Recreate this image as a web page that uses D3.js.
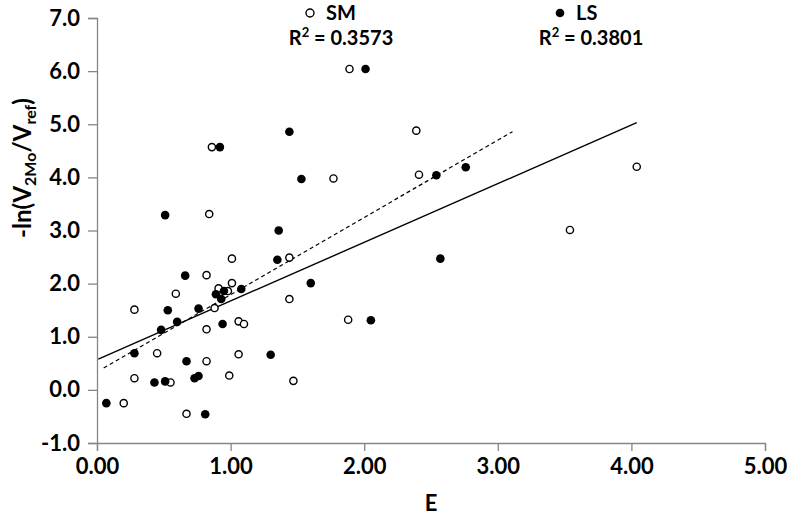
<!DOCTYPE html>
<html>
<head>
<meta charset="utf-8">
<script src="https://cdn.jsdelivr.net/npm/d3@7"></script>
<style>
  body { margin: 0; background: #fff; }
  svg text { font-family: Lato, "Open Sans", sans-serif; font-weight: bold; fill: #000; }
  .axis path, .axis line { stroke: #868686; stroke-width: 1.3; }
</style>
</head>
<body>
<svg id="chart" width="792" height="515"></svg>
<script>
// DATA
// SM series (open circles)
const smE = [0.28, 0.28, 0.20, 0.45, 0.55, 0.59, 0.67, 0.82, 0.82, 0.82, 0.84, 0.86, 0.88, 0.91, 0.98, 0.99,
             1.01, 1.01, 1.06, 1.06, 1.10, 1.44, 1.44, 1.47, 1.77, 1.88, 1.89, 2.39, 2.41, 3.54, 4.04];
const smY = [1.51, 0.22, -0.25, 0.69, 0.14, 1.81, -0.45, 2.16, 1.14, 0.54, 3.31, 4.57, 1.54, 1.91, 1.86, 0.27,
             2.47, 2.01, 1.29, 0.67, 1.24, 2.49, 1.71, 0.17, 3.98, 1.32, 6.04, 4.88, 4.05, 3.01, 4.20];
// LS series (filled circles)
const lsE = [0.07, 0.28, 0.43, 0.48, 0.51, 0.51, 0.53, 0.60, 0.66, 0.67, 0.73, 0.76, 0.76, 0.81, 0.89, 0.92,
             0.93, 0.94, 0.95, 1.08, 1.30, 1.35, 1.36, 1.44, 1.53, 1.60, 2.01, 2.05, 2.54, 2.57, 2.76];
const lsY = [-0.25, 0.69, 0.14, 1.13, 0.16, 3.29, 1.50, 1.28, 2.15, 0.54, 0.22, 0.26, 1.53, -0.46, 1.80, 4.57,
             1.71, 1.24, 1.86, 1.90, 0.66, 2.45, 3.00, 4.86, 3.97, 2.01, 6.04, 1.31, 4.04, 2.47, 4.19];
// trend line end points [E, value]
const smTrend = [[0.01, 0.58], [4.04, 5.03]];
const lsTrend = [[0.05, 0.41], [3.11, 4.86]];
// tick values
const xTicks = [0, 1, 2, 3, 4, 5];
const yTicks = [-1, 0, 1, 2, 3, 4, 5, 6, 7];
const legendNames = ["SM", "LS"];
const legendR2 = ["0.3573", "0.3801"];

// SETUP
const margin = { top: 18, right: 27, bottom: 72, left: 97 },
      width = 792 - margin.left - margin.right,
      height = 515 - margin.top - margin.bottom;

const svg = d3.select("#chart");
const g = svg.append("g")
    .attr("transform", `translate(${margin.left},${margin.top})`);

// SCALES
const x = d3.scaleLinear().domain([0, 5]).range([0, width]);
const y = d3.scaleLinear().domain([-1, 7]).range([height, 0]);

// AXES
g.append("g")
    .attr("class", "axis")
    .call(d3.axisLeft(y).tickValues(yTicks).tickSize(9).tickPadding(8)
        .tickFormat(d => d.toFixed(1)))
    .selectAll("text").style("font-size", "22px");

g.append("g")
    .attr("class", "axis")
    .attr("transform", `translate(0,${height})`)
    .call(d3.axisBottom(x).tickValues(xTicks).tickSize(8).tickPadding(7)
        .tickFormat(d => d.toFixed(2)))
    .selectAll("text").style("font-size", "22px");

g.selectAll(".axis text").attr("font-family", null).attr("font-size", null);

// TREND LINES
const line = d3.line().x(d => x(d[0])).y(d => y(d[1]));

g.append("path")
    .datum(smTrend)
    .attr("d", line)
    .attr("fill", "none")
    .attr("stroke", "#000")
    .attr("stroke-width", 1.4);

g.append("path")
    .datum(lsTrend)
    .attr("d", line)
    .attr("fill", "none")
    .attr("stroke", "#000")
    .attr("stroke-width", 1.2)
    .attr("stroke-dasharray", "4,3");

// POINTS
const smData = smE.map((e, i) => ({ e, v: smY[i] }));
const lsData = lsE.map((e, i) => ({ e, v: lsY[i] }));

g.selectAll(".sm")
    .data(smData)
    .enter()
    .append("circle")
    .attr("class", "sm")
    .attr("cx", d => x(d.e))
    .attr("cy", d => y(d.v))
    .attr("r", 3.6)
    .attr("fill", "#fff")
    .attr("stroke", "#000")
    .attr("stroke-width", 1.4);

g.selectAll(".ls")
    .data(lsData)
    .enter()
    .append("circle")
    .attr("class", "ls")
    .attr("cx", d => x(d.e))
    .attr("cy", d => y(d.v))
    .attr("r", 4.3)
    .attr("fill", "#000");

// LEGEND (top, outside plot frame)
const legendX = [310, 560];
legendNames.forEach((name, i) => {
    const lg = svg.append("g").attr("transform", `translate(${legendX[i]},13)`);
    if (i === 0) {
        lg.append("circle").attr("r", 4).attr("fill", "#fff")
            .attr("stroke", "#000").attr("stroke-width", 1.4);
    } else {
        lg.append("circle").attr("r", 4.3).attr("fill", "#000");
    }
    lg.append("text")
        .attr("x", 16)
        .attr("y", 7)
        .style("font-size", "20px")
        .text(name);

    const r2 = svg.append("text")
        .attr("x", legendX[i] + 31)
        .attr("y", 45)
        .attr("text-anchor", "middle")
        .style("font-size", "20px");
    r2.append("tspan").text("R");
    r2.append("tspan").attr("dy", -8).style("font-size", "13px").text("2");
    r2.append("tspan").attr("dy", 8).text(" = " + legendR2[i]);
});

// AXIS LABELS
svg.append("text")
    .attr("x", margin.left + width / 2)
    .attr("y", 511)
    .attr("text-anchor", "middle")
    .style("font-size", "22px")
    .text("E");

const yl = svg.append("text")
    .attr("transform", "translate(31,168) rotate(-90)")
    .attr("text-anchor", "middle")
    .style("font-size", "24px");
yl.append("tspan").text("-ln(V");
yl.append("tspan").attr("dy", 5).style("font-size", "16px").text("2Mo");
yl.append("tspan").attr("dy", -5).text("/V");
yl.append("tspan").attr("dy", 5).style("font-size", "16px").text("ref");
yl.append("tspan").attr("dy", -5).text(")");
</script>
</body>
</html>
